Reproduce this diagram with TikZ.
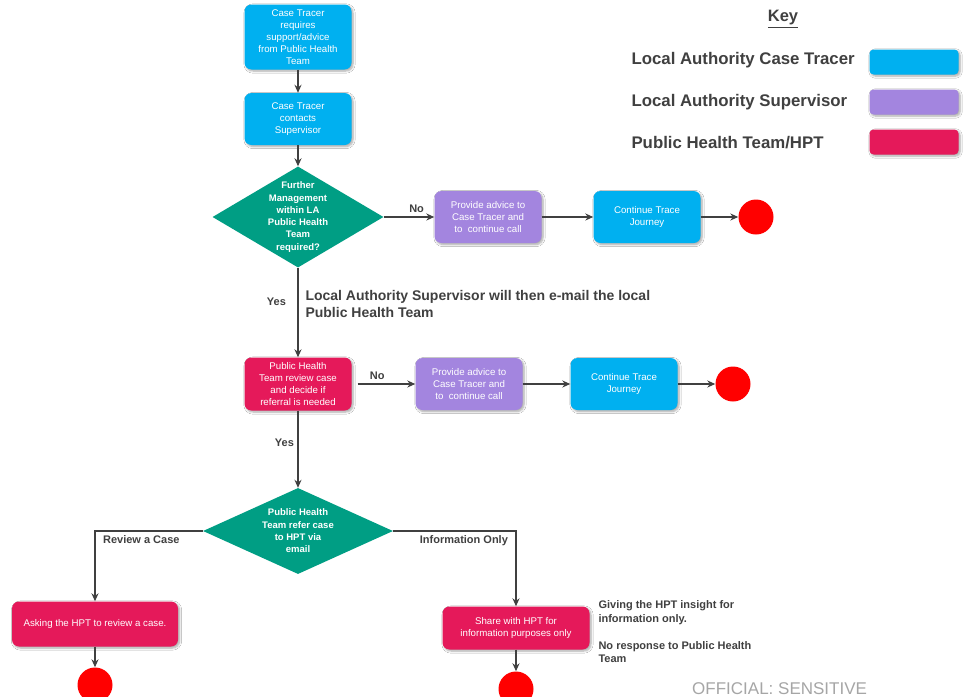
\documentclass[tikz,border=0pt]{standalone}
\usepackage{fontspec}
\setmainfont{Liberation Sans}
\usetikzlibrary{shapes.geometric,arrows.meta,shadows.blur}
\definecolor{tracerblue}{HTML}{00B0F0}
\definecolor{supervisorpurple}{HTML}{A385DF}
\definecolor{phtred}{HTML}{E5195A}
\definecolor{decisiongreen}{HTML}{009E84}
\definecolor{endred}{HTML}{FF0000}
\definecolor{textgray}{HTML}{404040}
\definecolor{officialgray}{HTML}{A6A6A6}
\tikzset{
  box/.style={rectangle, rounded corners=7pt, text=white, align=center, inner sep=2pt,
    font=\fontsize{9.7}{12}\selectfont,
    blur shadow={shadow xshift=1.5pt, shadow yshift=-1.5pt, shadow blur steps=6, shadow opacity=35}},
  tracerbox/.style={box, fill=tracerblue, minimum width=107pt, minimum height=52pt},
  supervisorbox/.style={box, fill=supervisorpurple, minimum width=107pt, minimum height=52pt},
  phtbox/.style={box, fill=phtred, minimum width=107pt, minimum height=52pt},
  decision/.style={diamond, fill=decisiongreen, inner sep=0pt},
  decisiontext/.style={text=white, align=center, font=\bfseries\fontsize{9.5}{12.3}\selectfont},
  endpoint/.style={circle, fill=endred, minimum size=35pt, inner sep=0pt},
  flow/.style={draw=textgray, line width=1.5pt, -{Stealth[length=8pt,width=7pt]}},
  flowlabel/.style={text=textgray, font=\bfseries\fontsize{11}{13}\selectfont},
  notetext/.style={text=textgray, align=left},
  keylabel/.style={text=textgray, anchor=west, font=\bfseries\fontsize{16.8}{18}\selectfont},
  keyswatch/.style={rectangle, rounded corners=4pt, minimum width=89pt, minimum height=25pt,
    blur shadow={shadow xshift=1.5pt, shadow yshift=-1.5pt, shadow blur steps=6, shadow opacity=35}}
}
\begin{document}
\begin{tikzpicture}[x=1pt,y=-1pt]
	\useasboundingbox[fill=white] (0,0) rectangle (966,696);

	%key
	\node[text=textgray, font=\bfseries\fontsize{16.5}{18}\selectfont](key) at (783,19) {\underline{Key}};
	\node[keylabel](keytracertext) at (628,60) {Local Authority Case Tracer};
	\node[keylabel](keysupervisortext) at (628,102) {Local Authority Supervisor};
	\node[keylabel](keyphttext) at (628,143) {Public Health Team/HPT};
	\node[keyswatch, fill=tracerblue](keytracer) at (914,62) {};
	\node[keyswatch, fill=supervisorpurple](keysupervisor) at (914,102) {};
	\node[keyswatch, fill=phtred](keypht) at (914,142) {};

	%first call
	\node[tracerbox, minimum height=65pt](needsupport) at (298,37) {Case Tracer\\requires\\support/advice\\from Public Health\\Team};
	\node[tracerbox](contacts) at (298,119) {Case Tracer\\contacts\\Supervisor};
	\node[decision, minimum width=171pt, minimum height=101pt,
		label={[decisiontext]center:{Further\\Management\\within LA\\Public Health\\Team\\required?}}](further) at (298,217) {};
	\node[supervisorbox](advicefirst) at (488,217) {Provide advice to\\Case Tracer and\\to\ \ continue call};
	\node[tracerbox](continuefirst) at (647,217) {Continue Trace\\Journey};
	\node[endpoint](endfirst) at (756,217) {};

	%note
	\node[notetext, anchor=west, font=\bfseries\fontsize{14}{16.5}\selectfont](emailnote) at (302,304)
		{Local Authority Supervisor will then e-mail the local\\Public Health Team};

	%public health team
	\node[phtbox, minimum height=53pt](review) at (298,384) {Public Health\\Team review case\\and decide if\\referral is needed};
	\node[supervisorbox](advicesecond) at (469,384) {Provide advice to\\Case Tracer and\\to\ \ continue call};
	\node[tracerbox](continuesecond) at (624,384) {Continue Trace\\Journey};
	\node[endpoint](endsecond) at (733,384) {};
	\node[decision, minimum width=190pt, minimum height=86pt,
		label={[decisiontext]center:{Public Health\\Team refer case\\to HPT via\\email}}](refer) at (298,531) {};

	%referral
	\node[phtbox, minimum width=166pt, minimum height=45pt](askhpt) at (95,624) {Asking the HPT to review a case.};
	\node[phtbox, minimum width=147pt, minimum height=43pt](share) at (516,628) {Share with HPT for\\information purposes only};
	\node[endpoint](endask) at (95,685) {};
	\node[endpoint](endshare) at (516,689) {};
	\node[notetext, anchor=north west, font=\bfseries\fontsize{11}{13.5}\selectfont](insight) at (595,597)
		{Giving the HPT insight for\\information only.\\[13.5pt]No response to Public Health\\Team};
	\node[anchor=base west, text=officialgray, font=\fontsize{17}{17}\selectfont, inner sep=0pt](official) at (692,694) {OFFICIAL: SENSITIVE};

	%arrows
	\draw[flow] (needsupport) -- (contacts);
	\draw[flow] (contacts) -- (further);
	\draw[flow] (further) -- node[flowlabel, above, pos=0.65]{No} (advicefirst);
	\draw[flow] (advicefirst) -- (continuefirst);
	\draw[flow] (continuefirst) -- (endfirst);
	\draw[flow] (further) -- node[flowlabel, left, pos=0.38, xshift=-8pt]{Yes} (review);
	\draw[flow, shorten <=6pt] (review) -- node[flowlabel, above, pos=0.4]{No} (advicesecond);
	\draw[flow] (advicesecond) -- (continuesecond);
	\draw[flow] (continuesecond) -- (endsecond);
	\draw[flow] (review) -- node[flowlabel, left, pos=0.42]{Yes} (refer);
	\draw[flow] (refer.west) -| node[flowlabel, pos=0.5, below right, xshift=4pt]{Review a Case} (askhpt);
	\draw[flow] (refer.east) -| node[flowlabel, pos=0.5, below left, xshift=-4pt]{Information Only} (share);
	\draw[flow] (askhpt) -- (endask);
	\draw[flow] (share) -- (endshare);
\end{tikzpicture}
\end{document}
